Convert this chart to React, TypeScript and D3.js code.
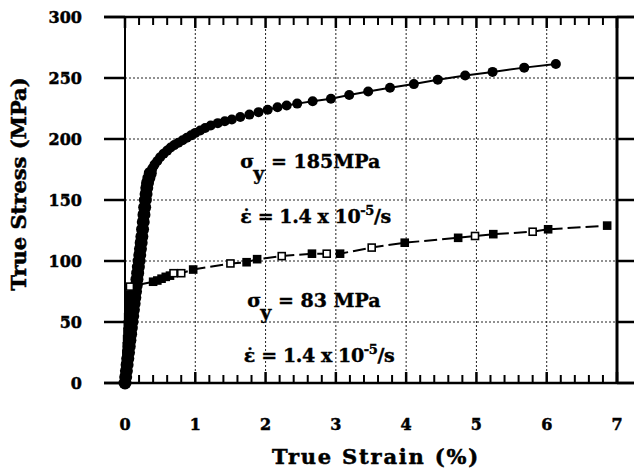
import React from 'react';
import { scaleLinear, line, range } from 'd3';

// true strain (%) / true stress (MPa), sigma_y = 185 MPa
const strainA = [0, 0.01, 0.02, 0.03, 0.04, 0.05, 0.06, 0.07, 0.08, 0.09, 0.1, 0.11, 0.12, 0.13, 0.14, 0.15,
  0.16, 0.17, 0.18, 0.19, 0.2, 0.21, 0.22, 0.23, 0.24, 0.25, 0.26, 0.27, 0.28, 0.29, 0.3, 0.31, 0.32, 0.34,
  0.36, 0.39, 0.42, 0.46, 0.5, 0.55, 0.6, 0.65, 0.7, 0.76, 0.82, 0.88, 0.94, 1.0, 1.07, 1.14, 1.22, 1.32,
  1.42, 1.52, 1.64, 1.77, 1.9, 2.03, 2.17, 2.3, 2.45, 2.67, 2.93, 3.19, 3.46, 3.77, 4.11, 4.45, 4.84, 5.23,
  5.68, 6.13];
const stressA = [0, 5, 10, 15, 20, 25, 30, 35, 40, 45, 50, 55, 60, 65, 70, 75,
  80, 85, 90, 95, 100, 105, 110, 115, 120, 126, 132, 138, 144, 150, 155, 160, 164, 168,
  172, 176, 179, 182, 185, 188, 190.5, 193, 195, 197, 199, 201, 203, 205, 207, 209, 211, 213,
  214.5, 216, 218, 220, 222, 224, 226, 227.5, 229, 231, 233, 236, 239, 242, 245, 248.5, 252, 255,
  258.5, 261.5];

// sigma_y = 83 MPa
const strainB = [0, 0.005, 0.01, 0.015, 0.02, 0.025, 0.03, 0.035, 0.04, 0.045, 0.05, 0.055, 0.06, 0.07,
  0.4, 0.46, 0.52, 0.58, 0.64, 0.69, 0.8, 0.97, 1.5, 1.73, 1.88, 2.23, 2.66, 2.87, 3.06, 3.51, 3.98,
  4.74, 4.98, 5.24, 5.8, 6.02, 6.86];
const stressB = [0, 6, 12, 18, 24, 30, 36, 42, 48, 54, 60, 66, 72, 79,
  83, 84, 85.5, 87, 88, 90, 90, 93, 98, 99, 101.5, 104, 106, 106, 106, 111, 115,
  119, 120.5, 122, 124, 126, 129];
const filledB = [1, 1, 1, 1, 1, 1, 1, 1, 1, 1, 1, 1, 1, 0,
  1, 1, 1, 1, 1, 0, 0, 1, 0, 1, 1, 0, 1, 0, 1, 0, 1,
  1, 0, 1, 0, 1, 1];

const xTicks = [0, 1, 2, 3, 4, 5, 6, 7];
const yTicks = [0, 50, 100, 150, 200, 250, 300];

const FONT = '"DejaVu Serif", serif';

export default function App() {
  const x = scaleLinear().domain([0, 7]).range([125, 617]);
  const y = scaleLinear().domain([0, 300]).range([383, 17]);
  const ptsA = strainA.map((d, i) => [d, stressA[i]]);
  const ptsB = strainB.map((d, i) => [d, stressB[i]]);
  const path = line<number[]>().x(d => x(d[0])).y(d => y(d[1]));
  const minor = range(0, 35).map(i => i * 0.2).filter(v => Math.abs(v - Math.round(v)) > 0.01);

  return (
    <svg width={634} height={471} style={{ position: 'absolute', left: 0, top: 0, background: '#fff' }}
      fontFamily={FONT} fontWeight="bold">
      {/* grid */}
      <g stroke="#222" strokeWidth={1} strokeDasharray="2,2">
        {xTicks.slice(1, -1).map(t => <line key={'gx' + t} x1={x(t)} x2={x(t)} y1={y(0)} y2={y(300)} />)}
        {yTicks.slice(1, -1).map(t => <line key={'gy' + t} x1={x(0)} x2={x(7)} y1={y(t)} y2={y(t)} />)}
      </g>

      {/* frame */}
      <g stroke="#000" strokeWidth={2.5} fill="none">
        <line x1={104} x2={x(7) + 20} y1={y(0)} y2={y(0)} />
        <line x1={104} x2={x(7) + 20} y1={y(300)} y2={y(300)} />
        <line x1={x(0)} x2={x(0)} y1={y(0)} y2={y(300)} strokeWidth={2} />
        <line x1={x(7)} x2={x(7)} y1={y(0)} y2={y(300)} strokeWidth={3} />
        {yTicks.map(t => <line key={'yl' + t} x1={104} x2={x(0)} y1={y(t)} y2={y(t)} />)}
        {yTicks.map(t => <line key={'yr' + t} x1={x(7)} x2={x(7) + 20} y1={y(t)} y2={y(t)} />)}
        {xTicks.map(t => <line key={'xb' + t} x1={x(t)} x2={x(t)} y1={y(0)} y2={y(0) - 11} />)}
        {xTicks.map(t => <line key={'xt' + t} x1={x(t)} x2={x(t)} y1={y(300)} y2={y(300) + 11} />)}
        {minor.map(t => <line key={'mb' + t} x1={x(t)} x2={x(t)} y1={y(0)} y2={y(0) - 8} strokeWidth={2} />)}
        {minor.map(t => <line key={'mt' + t} x1={x(t)} x2={x(t)} y1={y(300)} y2={y(300) + 8} strokeWidth={2} />)}
      </g>

      {/* tick labels */}
      <g fontSize={16} fill="#000" stroke="#000" strokeWidth={0.5}>
        {yTicks.map(t => (
          <text key={'yt' + t} x={82} y={y(t)} textAnchor="end" dominantBaseline="central">{t}</text>
        ))}
        {xTicks.map(t => (
          <text key={'xtl' + t} x={x(t)} y={430} textAnchor="middle">{t}</text>
        ))}
      </g>

      {/* axis titles */}
      <g fontSize={21} fill="#000" stroke="#000" strokeWidth={0.5}>
        <text x={376} y={464} textAnchor="middle" letterSpacing={1.8}>True Strain (%)</text>
        <text transform="translate(26,184) rotate(-90)" textAnchor="middle">True Stress (MPa)</text>
      </g>

      {/* series A: solid line, filled circles */}
      <path d={path(ptsA) || ''} fill="none" stroke="#000" strokeWidth={2} />
      {ptsA.map((d, i) => (
        <circle key={'a' + i} cx={x(d[0])} cy={y(d[1])} r={d[1] < 175 ? 6.5 : 5} fill="#000" />
      ))}

      {/* series B: dashed line, squares */}
      <path d={path(ptsB) || ''} fill="none" stroke="#000" strokeWidth={2} strokeDasharray="13,5" />
      {ptsB.map((d, i) => (
        <rect key={'b' + i} x={x(d[0]) - 3.5} y={y(d[1]) - 3.5} width={7} height={7}
          fill={filledB[i] ? '#000' : '#fff'} stroke="#000" strokeWidth={1.6} />
      ))}

      {/* annotations */}
      <g fontSize={19} fill="#000" stroke="#000" strokeWidth={0.4}>
        <text x={x(1.64)} y={y(176)}>
          σ<tspan dy={12} dx={-1}>y</tspan><tspan dy={-12}> = 185MPa</tspan>
        </text>
        <text x={x(1.64)} y={y(131)} letterSpacing={-0.4}>
          {'\u03b5\u0307 = 1.4 x 10'}<tspan dy={-8} fontSize={13}>-5</tspan><tspan dy={8}>/s</tspan>
        </text>
        <text x={x(1.74)} y={y(62)}>
          σ<tspan dy={12} dx={-1}>y</tspan><tspan dy={-12}> = 83 MPa</tspan>
        </text>
        <text x={x(1.69)} y={y(17)} letterSpacing={-0.4}>
          {'\u03b5\u0307 = 1.4 x 10'}<tspan dy={-8} fontSize={13}>-5</tspan><tspan dy={8}>/s</tspan>
        </text>
      </g>
    </svg>
  );
}
